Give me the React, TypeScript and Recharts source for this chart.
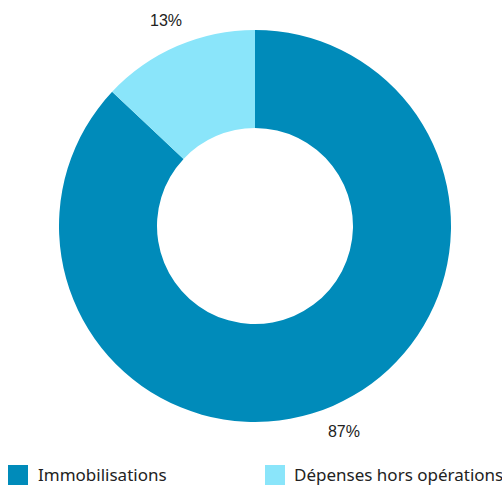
import React from "react";
import { PieChart, Pie, Cell, Legend } from "recharts";

const categories = ["Immobilisations", "Dépenses hors opérations"];
const values = [87, 13];
const colors = ["#008BBA", "#8AE5FA"];

const data = categories.map((name, i) => ({ name, value: values[i] }));

const RAD = Math.PI / 180;

const renderLabel = (props: any) => {
  const { cx, cy, midAngle, outerRadius, percent } = props;
  const r = outerRadius + 28;
  const x = cx + r * Math.cos(-midAngle * RAD);
  const y = cy + r * Math.sin(-midAngle * RAD);
  return (
    <text
      x={x}
      y={y}
      textAnchor="middle"
      dominantBaseline="central"
      fill="#222"
      style={{ fontSize: 16, fontFamily: "'Liberation Sans', Arial, sans-serif" }}
    >
      {`${Math.round(percent * 100)}%`}
    </text>
  );
};

const LegendContent = () => (
  <div style={{ position: "relative", width: 502, height: 24, fontFamily: "'Noto Sans', sans-serif" }}>
    {categories.map((c, i) => (
      <div
        key={c}
        style={{
          position: "absolute",
          left: i === 0 ? 8 : 265,
          top: 0,
          display: "flex",
          alignItems: "center",
          whiteSpace: "nowrap",
        }}
      >
        <span style={{ display: "inline-block", width: 20, height: 20, background: colors[i] }} />
        <span style={{ marginLeft: i === 0 ? 10 : 9, fontSize: 17, color: "#222" }}>{c}</span>
      </div>
    ))}
  </div>
);

export default function App() {
  return (
    <div style={{ position: "fixed", left: 0, top: 0, width: 502, height: 487, overflow: "hidden", background: "#fff" }}>
      <PieChart width={502} height={487} margin={{ top: 0, right: 0, bottom: 0, left: 0 }}>
        <Pie
          data={data}
          dataKey="value"
          nameKey="name"
          cx={255}
          cy={226}
          innerRadius={98}
          outerRadius={196}
          startAngle={90}
          endAngle={-270}
          stroke="none"
          label={renderLabel}
          labelLine={false}
          isAnimationActive={false}
        >
          {data.map((d, i) => (
            <Cell key={d.name} fill={colors[i]} />
          ))}
        </Pie>
        <Legend
          content={<LegendContent />}
          wrapperStyle={{ position: "absolute", left: 0, top: 463, width: 502 }}
        />
      </PieChart>
    </div>
  );
}
